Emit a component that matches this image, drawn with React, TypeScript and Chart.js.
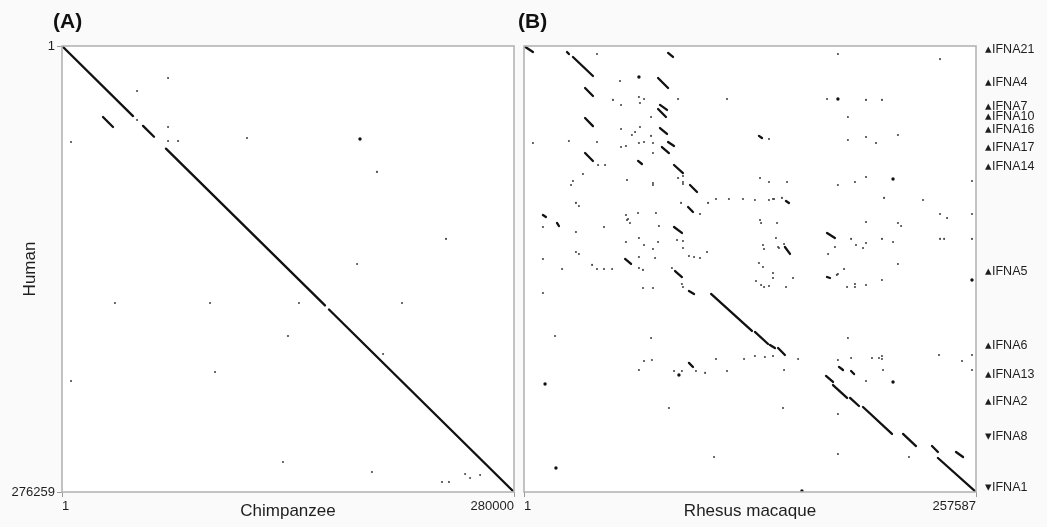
import React, { useEffect, useRef } from 'react';
import { Chart, registerables } from 'chart.js';

Chart.register(...registerables);

// ---------- data (positions in kb) ----------
const KB = 1000;
const HUMAN_LEN = 276259;
const CHIMP_LEN = 280000;
const RHESUS_LEN = 257587;

// Panel A: Human (y) vs Chimpanzee (x) – matching segments [x1, y1, x2, y2] in kb
const chimpSegments: number[][] = [
  [0.001, 0.001, 44.0, 43.4],
  [50.2, 49.5, 57.0, 56.2],
  [64.4, 63.6, 162.9, 160.7],
  [165.4, 163.2, 280.0, 276.259],
  [25.4, 44.0, 31.6, 50.2],
];

const chimpDots: number[][] = [
  [65.7, 19.8], [46.5, 27.9], [46.5, 45.8], [65.7, 50.2], [65.7, 58.8], [71.9, 58.8],
  [114.6, 57.0], [5.6, 59.5], [195.1, 78.0], [237.9, 119.5], [182.8, 135.0],
  [32.8, 159.2], [91.7, 159.2], [146.8, 159.2], [210.6, 159.2], [140.0, 179.6],
  [198.9, 190.8], [94.8, 201.9], [5.6, 207.5], [136.9, 257.7], [192.0, 263.9],
  [235.4, 270.1], [239.7, 270.1], [249.7, 265.1], [252.8, 267.6], [259.0, 265.7],
];
const chimpBigDots: number[][] = [[184.6, 57.6]];

// Panel B: Human (y) vs Rhesus macaque (x)
const rhesusSegments: number[][] = [
  [0.001, 0.001, 5.1, 3.7],
  [24.5, 3.7, 25.6, 5.0],
  [27.9, 6.8, 39.3, 18.6],
  [82.1, 4.3, 84.9, 6.8],
  [34.8, 26.0, 39.3, 31.0],
  [76.4, 19.8, 82.1, 26.0],
  [34.8, 44.6, 39.3, 49.6],
  [76.4, 39.0, 80.9, 44.0],
  [77.5, 36.5, 81.5, 39.6],
  [77.5, 50.8, 81.5, 54.5],
  [78.6, 62.6, 82.6, 66.3],
  [82.1, 59.5, 85.5, 61.9],
  [34.8, 66.3, 39.3, 71.2],
  [65.0, 71.2, 67.2, 73.1],
  [85.5, 73.7, 90.6, 78.7],
  [94.6, 86.1, 98.6, 90.4],
  [93.5, 99.7, 96.3, 102.8],
  [85.5, 112.1, 90.0, 115.8],
  [57.6, 131.9, 61.0, 135.0],
  [86.1, 139.4, 90.0, 143.1],
  [10.8, 104.7, 12.5, 105.9],
  [18.8, 109.6, 19.9, 111.5],
  [133.9, 55.7, 135.6, 57.0],
  [149.3, 96.0, 151.0, 97.2],
  [172.7, 115.8, 177.2, 118.9],
  [148.7, 124.5, 151.6, 128.8],
  [172.7, 143.1, 174.4, 143.7],
  [94.0, 151.8, 96.9, 153.6],
  [106.6, 153.6, 129.9, 176.5],
  [131.6, 177.1, 139.1, 184.6],
  [140.2, 185.2, 143.0, 187.1],
  [144.8, 187.1, 148.7, 191.4],
  [94.0, 196.3, 96.3, 198.8],
  [179.5, 198.8, 181.8, 200.7],
  [186.4, 201.3, 188.1, 203.2],
  [172.1, 204.4, 176.1, 208.1],
  [176.1, 210.0, 184.1, 218.0],
  [185.8, 218.0, 190.9, 223.0],
  [193.2, 223.6, 209.7, 240.3],
  [216.0, 240.3, 223.4, 247.8],
  [232.5, 247.8, 235.9, 251.5],
  [246.2, 251.5, 250.2, 254.6],
  [235.9, 255.2, 257.587, 276.259],
];

const rhesusDots: number[][] = [
  [41.6, 5.0], [54.7, 21.7], [50.7, 33.4], [55.3, 36.5], [65.5, 31.6], [68.4, 32.8],
  [66.1, 35.3], [87.8, 32.8], [115.7, 32.8], [72.4, 44.0], [55.3, 51.4], [66.1, 50.2],
  [63.3, 53.3], [61.5, 55.1], [72.4, 55.7], [25.6, 58.8], [5.1, 60.1], [41.6, 59.5],
  [55.3, 62.6], [58.1, 61.9], [65.5, 60.1], [68.4, 59.5], [73.5, 60.1], [73.5, 66.3],
  [42.2, 73.7], [46.2, 73.7], [33.6, 79.3], [27.9, 83.6], [26.8, 86.1], [58.7, 83.0],
  [73.5, 84.9], [73.5, 86.1], [87.8, 81.8], [90.6, 80.5], [90.6, 84.2], [90.6, 85.5],
  [134.5, 81.8], [139.6, 84.2], [29.6, 97.2], [31.3, 99.1], [89.5, 97.2], [104.9, 97.2],
  [109.4, 94.8], [116.8, 94.8], [124.8, 94.8], [131.6, 95.4], [139.6, 95.4], [142.5, 94.8],
  [100.3, 104.1], [58.1, 104.7], [58.7, 107.8], [59.3, 107.2], [60.4, 109.6], [65.0, 103.4],
  [75.2, 103.4], [10.8, 112.1], [29.6, 115.2], [45.6, 112.1], [76.9, 111.5], [134.5, 107.8],
  [135.1, 109.6], [144.2, 109.6], [87.2, 120.2], [90.6, 120.8], [90.6, 125.1], [58.1, 121.4],
  [65.5, 118.9], [68.4, 123.3], [76.4, 121.4], [73.5, 125.7], [74.7, 131.3], [29.6, 127.6],
  [31.3, 128.8], [10.8, 131.9], [65.5, 130.7], [94.0, 130.1], [96.9, 130.7], [100.3, 131.3],
  [104.3, 127.6], [21.7, 138.1], [38.8, 135.6], [41.6, 138.1], [45.6, 138.1], [50.2, 138.1],
  [65.5, 137.5], [67.8, 138.7], [84.3, 137.5], [136.2, 123.3], [136.8, 125.7], [133.9, 134.4],
  [136.2, 136.9], [143.6, 118.9], [144.8, 124.5],
  [178.9, 5.0], [237.1, 8.1], [172.7, 32.8], [194.9, 33.4], [204.0, 33.4], [184.6, 44.0],
  [139.6, 57.6], [184.6, 58.2], [194.9, 56.4], [200.6, 60.1], [213.1, 55.1], [149.9, 84.2],
  [178.9, 86.1], [188.6, 84.2], [194.9, 81.1], [255.3, 83.6], [141.9, 94.8], [147.0, 94.1],
  [205.2, 94.1], [227.4, 95.4], [194.9, 109.0], [213.1, 109.6], [214.9, 111.5], [237.1, 104.1],
  [241.1, 106.5], [255.3, 104.1], [145.3, 125.1], [148.2, 122.6], [186.4, 119.5], [177.2, 124.5],
  [189.2, 123.3], [193.2, 125.1], [194.9, 122.0], [204.0, 119.5], [210.3, 121.4], [237.1, 119.5],
  [239.4, 119.5], [255.3, 119.5], [173.3, 128.8], [213.1, 135.0], [182.4, 138.1], [141.9, 140.6],
  [153.3, 143.7], [178.3, 141.8], [141.9, 143.7],
  [90.0, 147.4], [90.6, 149.3], [67.8, 149.9], [73.5, 149.9], [10.8, 153.0], [17.7, 179.6],
  [72.4, 180.9], [68.4, 195.1], [72.9, 194.5], [65.5, 200.7], [85.5, 201.3], [90.0, 201.3],
  [98.0, 201.3], [103.2, 202.5], [109.4, 193.9], [115.7, 201.3], [125.4, 193.9], [82.6, 224.2],
  [108.3, 254.6],
  [132.2, 145.6], [135.1, 148.0], [136.8, 149.3], [139.6, 148.7], [149.3, 149.3], [178.9, 141.2],
  [184.1, 149.3], [188.6, 147.4], [188.6, 149.3], [194.9, 148.0], [204.0, 144.9], [131.6, 192.0],
  [137.3, 192.6], [141.9, 192.0], [156.2, 193.9], [178.9, 194.5], [184.6, 180.9], [186.4, 193.3],
  [198.3, 193.3], [202.3, 193.3], [204.0, 192.0], [204.0, 193.9], [204.6, 200.7], [194.9, 207.5],
  [236.5, 191.4], [249.6, 195.1], [255.3, 191.4], [255.3, 200.7], [148.2, 200.7], [147.6, 224.2],
  [178.9, 227.9], [178.9, 252.7], [219.4, 254.6],
];
const rhesusBigDots: number[][] = [
  [65.5, 19.2], [178.9, 32.8], [210.3, 82.4], [255.3, 144.9], [88.3, 203.8],
  [12.0, 209.4], [18.2, 261.4], [158.4, 275.6], [210.3, 208.1],
];

// IFNA gene positions along the human sequence (kb) and strand
const geneNames = ['IFNA21', 'IFNA4', 'IFNA7', 'IFNA10', 'IFNA16', 'IFNA17', 'IFNA14',
  'IFNA5', 'IFNA6', 'IFNA13', 'IFNA2', 'IFNA8', 'IFNA1'];
const genePos = [2.5, 22.9, 37.2, 44.0, 52.0, 62.9, 74.9, 140.0, 185.8, 203.8, 220.5, 242.2, 273.2];
const geneStrand = ['+', '+', '+', '+', '+', '+', '+', '+', '+', '+', '+', '-', '-'];

// ---------- styling ----------
const FONT = '"Liberation Sans", Arial, Helvetica, sans-serif';
const TEXT = '#1e1e1e';
const AXIS_GRAY = '#9a9a9a';

Chart.defaults.font.family = FONT;
Chart.defaults.color = TEXT;

const framePlugin = {
  id: 'frame',
  beforeDraw(chart: any) {
    const { ctx, chartArea: a } = chart;
    ctx.save();
    ctx.fillStyle = '#ffffff';
    ctx.fillRect(a.left, a.top, a.right - a.left, a.bottom - a.top);
    ctx.restore();
  },
  afterDatasetsDraw(chart: any) {
    const { ctx, chartArea: a } = chart;
    ctx.save();
    ctx.strokeStyle = '#b4b4b4';
    ctx.lineWidth = 1.6;
    ctx.strokeRect(a.left, a.top, a.right - a.left, a.bottom - a.top);
    ctx.restore();
  },
};

const panelLabelPlugin = {
  id: 'panelLabel',
  afterDraw(chart: any, _args: any, opts: any) {
    if (!opts || !opts.text) return;
    const { ctx, chartArea: a } = chart;
    ctx.save();
    ctx.font = `bold 21px ${FONT}`;
    ctx.fillStyle = '#111';
    ctx.textBaseline = 'middle';
    ctx.textAlign = 'left';
    ctx.fillText(opts.text, a.left + opts.dx, opts.y);
    ctx.restore();
  },
};

function buildDatasets(segs: number[][], dots: number[][], big: number[][], xMax: number) {
  const clampX = (v: number) => Math.min(xMax, Math.max(1, v * KB));
  const clampY = (v: number) => Math.min(HUMAN_LEN, Math.max(1, v * KB));
  const ds: any[] = segs.map((s) => ({
    data: [
      { x: clampX(s[0]), y: clampY(s[1]) },
      { x: clampX(s[2]), y: clampY(s[3]) },
    ],
    showLine: true,
    borderColor: '#111',
    borderWidth: 2.3,
    pointRadius: 0,
    borderCapStyle: 'round',
  }));
  ds.push({
    data: dots.map((d) => ({ x: clampX(d[0]), y: clampY(d[1]) })),
    showLine: false,
    pointRadius: 1.05,
    pointBorderWidth: 0,
    pointBackgroundColor: '#444',
  });
  ds.push({
    data: big.map((d) => ({ x: clampX(d[0]), y: clampY(d[1]) })),
    showLine: false,
    pointRadius: 1.7,
    pointBorderWidth: 0,
    pointBackgroundColor: '#111',
  });
  return ds;
}

function xScale(xMax: number, title: string) {
  return {
    type: 'linear',
    position: 'bottom',
    min: 1,
    max: xMax,
    afterBuildTicks: (s: any) => { s.ticks = [{ value: 1 }, { value: xMax }]; },
    afterFit: (s: any) => { s.height = 35; s.paddingLeft = 0; s.paddingRight = 0; },
    ticks: {
      align: 'inner',
      autoSkip: false,
      maxRotation: 0,
      padding: 2,
      color: TEXT,
      font: { size: 13 },
      callback: (v: any) => String(v),
    },
    grid: { drawOnChartArea: false, drawTicks: true, tickLength: 5, color: AXIS_GRAY },
    border: { display: false },
    title: { display: true, text: title, color: TEXT, font: { size: 17 }, padding: { top: 0, bottom: 5 } },
  };
}

function chimpConfig(): any {
  return {
    type: 'scatter',
    data: { datasets: buildDatasets(chimpSegments, chimpDots, chimpBigDots, CHIMP_LEN) },
    plugins: [framePlugin, panelLabelPlugin],
    options: {
      animation: false,
      responsive: false,
      devicePixelRatio: 1,
      layout: { padding: { top: 46, right: 4, left: 0, bottom: 0 } },
      plugins: {
        legend: { display: false },
        tooltip: { enabled: false },
        panelLabel: { text: '(A)', dx: -9, y: 22 },
      },
      scales: {
        x: xScale(CHIMP_LEN, 'Chimpanzee'),
        y: {
          type: 'linear',
          position: 'left',
          reverse: true,
          min: 1,
          max: HUMAN_LEN,
          afterBuildTicks: (s: any) => { s.ticks = [{ value: 1 }, { value: HUMAN_LEN }]; },
          afterFit: (s: any) => { s.width = 62; s.paddingTop = 0; s.paddingBottom = 0; },
          ticks: { autoSkip: false, padding: 2, color: TEXT, font: { size: 13 }, callback: (v: any) => String(v) },
          grid: { drawOnChartArea: false, drawTicks: true, tickLength: 5, color: AXIS_GRAY },
          border: { display: false },
          title: { display: true, text: 'Human', color: TEXT, font: { size: 17 }, padding: { top: 20, bottom: 0 } },
        },
      },
    },
  };
}

function rhesusConfig(): any {
  return {
    type: 'scatter',
    data: { datasets: buildDatasets(rhesusSegments, rhesusDots, rhesusBigDots, RHESUS_LEN) },
    plugins: [framePlugin, panelLabelPlugin],
    options: {
      animation: false,
      responsive: false,
      devicePixelRatio: 1,
      layout: { padding: { top: 46, right: 0, left: 6, bottom: 0 } },
      plugins: {
        legend: { display: false },
        tooltip: { enabled: false },
        panelLabel: { text: '(B)', dx: -6, y: 22 },
      },
      scales: {
        x: xScale(RHESUS_LEN, 'Rhesus macaque'),
        y: {
          type: 'linear',
          position: 'right',
          reverse: true,
          min: 1,
          max: HUMAN_LEN,
          afterBuildTicks: (s: any) => { s.ticks = genePos.map((p) => ({ value: p * KB })); },
          afterFit: (s: any) => { s.width = 71; s.paddingTop = 0; s.paddingBottom = 0; },
          ticks: {
            autoSkip: false,
            padding: 9,
            color: TEXT,
            font: { size: 12.5 },
            callback: (_v: any, i: number) => (geneStrand[i] === '-' ? '\u25BE' : '\u25B4') + geneNames[i],
          },
          grid: { drawOnChartArea: false, drawTicks: false, color: AXIS_GRAY },
          border: { display: false },
        },
      },
    },
  };
}

function ChartCanvas({ make, left, width }: { make: () => any; left: number; width: number }) {
  const ref = useRef<HTMLCanvasElement | null>(null);
  useEffect(() => {
    if (!ref.current) return;
    const chart = new Chart(ref.current, make());
    return () => chart.destroy();
  }, [make]);
  return (
    <canvas
      ref={ref}
      width={width}
      height={527}
      style={{ position: 'absolute', left, top: 0, width, height: 527 }}
    />
  );
}

export default function App() {
  return (
    <div
      style={{
        position: 'absolute',
        left: 0,
        top: 0,
        width: 1047,
        height: 527,
        background: '#fafafa',
        overflow: 'hidden',
      }}
    >
      <ChartCanvas make={chimpConfig} left={0} width={518} />
      <ChartCanvas make={rhesusConfig} left={518} width={529} />
    </div>
  );
}
